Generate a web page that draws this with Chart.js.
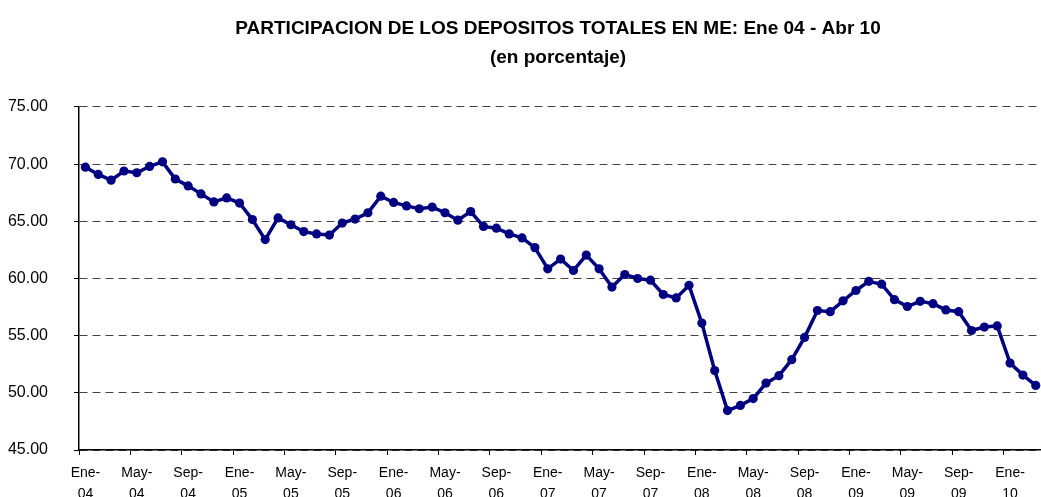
<!DOCTYPE html>
<html>
<head>
<meta charset="utf-8">
<script src="https://cdn.jsdelivr.net/npm/chart.js@4.4.1/dist/chart.umd.min.js"></script>
<style>
  html, body { margin: 0; padding: 0; background: #fff; overflow: hidden; }
  #frame { width: 1041px; height: 497px; overflow: hidden; position: relative; }
  #wrap { width: 1116px; height: 510px; position: absolute; left: 0; top: 0; }
</style>
</head>
<body>
<div id="frame"><div id="wrap"><canvas id="chart"></canvas></div></div>
<script>
// Participacion de los depositos totales en ME, Ene 04 - Abr 10 (%)
var meses = ['Ene', 'Feb', 'Mar', 'Abr', 'May', 'Jun', 'Jul', 'Ago', 'Sep', 'Oct', 'Nov', 'Dic'];
var anios = ['04', '05', '06', '07', '08', '09', '10'];

// monthly values; Abr-10 falls outside the cropped picture
var participacion = [
  69.74, 69.10, 68.60, 69.40, 69.25, 69.80, 70.20, 68.70, 68.10, 67.40, 66.70, 67.05,  // 2004
  66.60, 65.15, 63.40, 65.30, 64.70, 64.10, 63.90, 63.80, 64.85, 65.20, 65.75, 67.20,  // 2005
  66.65, 66.35, 66.10, 66.25, 65.75, 65.10, 65.85, 64.55, 64.40, 63.90, 63.55, 62.70,  // 2006
  60.85, 61.70, 60.70, 62.05, 60.85, 59.25, 60.35, 60.00, 59.85, 58.60, 58.30, 59.40,  // 2007
  56.10, 51.95, 48.45, 48.90, 49.50, 50.85, 51.50, 52.90, 54.85, 57.20, 57.10, 58.05,  // 2008
  58.95, 59.75, 59.50, 58.15, 57.55, 58.00, 57.80, 57.25, 57.10, 55.45, 55.75, 55.85,  // 2009
  52.60, 51.55, 50.65, null                                                            // 2010
];

var yTicks = [45, 50, 55, 60, 65, 70, 75];

var categorias = [];
anios.forEach(function (a) {
  meses.forEach(function (m) {
    if (categorias.length < participacion.length) categorias.push(m + '-' + a);
  });
});

var tituloLineas = ['PARTICIPACION DE LOS DEPOSITOS TOTALES EN ME: Ene 04 - Abr 10', '(en porcentaje)'];

var font = "'Liberation Sans', Arial, Helvetica, sans-serif";

// a label (and its tick mark) every 4 months
function conEtiqueta(i) { return i % 4 === 0; }

new Chart(document.getElementById('chart'), {
  type: 'line',
  data: {
    labels: categorias,
    datasets: [{
      label: 'Participacion ME',
      data: participacion,
      borderColor: '#000080',
      backgroundColor: '#000080',
      borderWidth: 3.5,
      pointRadius: 4.6,
      pointBorderWidth: 0,
      pointBackgroundColor: '#000080',
      tension: 0,
      spanGaps: false
    }]
  },
  options: {
    responsive: true,
    maintainAspectRatio: false,
    animation: false,
    layout: { padding: 0 },
    plugins: {
      legend: { display: false },
      tooltip: { enabled: false },
      title: {
        display: true,
        text: tituloLineas,
        color: '#000',
        font: { family: font, size: 19, weight: 'bold', lineHeight: 1.526 },
        padding: { top: 14.5, bottom: 34.5 }
      }
    },
    scales: {
      x: {
        type: 'category',
        offset: true,
        grid: {
          offset: true, drawOnChartArea: false, drawTicks: true, tickLength: 5, lineWidth: 1,
          color: '#000',
          tickColor: function (ctx) { return conEtiqueta(ctx.index) ? '#000' : 'rgba(0,0,0,0)'; }
        },
        border: { display: true, color: '#000', width: 1.5 },
        ticks: {
          autoSkip: false,
          maxRotation: 0,
          minRotation: 0,
          padding: 8,
          color: '#000',
          font: { family: font, size: 14, lineHeight: 1.5 },
          callback: function (v, i) {
            if (!conEtiqueta(i)) return '';
            var lab = categorias[i].split('-');
            return [lab[0] + '-', lab[1]];
          }
        },
        afterFit: function (scale) { scale.height = 60; }
      },
      y: {
        min: 45,
        max: 75,
        afterBuildTicks: function (scale) {
          scale.ticks = yTicks.map(function (v) { return { value: v }; });
        },
        grid: { color: '#444', lineWidth: 1, drawTicks: true, tickLength: 5, tickColor: '#000' },
        border: { display: true, color: '#000', width: 1.5, dash: [8, 5] },
        ticks: {
          padding: 26,
          color: '#000',
          font: { family: font, size: 16 },
          callback: function (v) { return Number(v).toFixed(2); }
        },
        afterFit: function (scale) { scale.width = 79; }
      },
      // empty right-hand box: keeps the plot the same width while the title stays centred where it is in the picture
      derecha: {
        position: 'right',
        display: true,
        min: 0,
        max: 1,
        grid: { display: false, drawOnChartArea: false },
        border: { display: false },
        ticks: { display: false },
        afterFit: function (scale) { scale.width = 61; }
      }
    }
  }
});
</script>
</body>
</html>
